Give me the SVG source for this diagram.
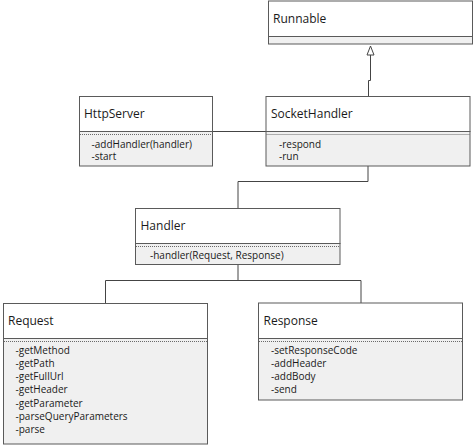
<svg xmlns="http://www.w3.org/2000/svg" width="474" height="445" viewBox="0 0 474 445">
<style>
.hd{fill:#ffffff;stroke:#5a5a5a;stroke-width:1}
.cp{fill:#f0f0f0;stroke:#5a5a5a;stroke-width:1}
.dot{stroke:#6a6a6a;stroke-width:1;stroke-dasharray:1 1}
.t{font-family:"Open Sans","Noto Sans",sans-serif;font-size:12px;fill:#1a1a1a}
.m{font-family:"Open Sans","Noto Sans",sans-serif;font-size:10px;fill:#1a1a1a}
.c{fill:none;stroke:#444444;stroke-width:1}
</style>
<rect width="474" height="445" fill="#ffffff"/>
<g id="connectors">
<path class="c" d="M213 131.5 H266"/>
<path class="c" d="M368.5 96.5 V80.5 H370.5 V55"/>
<polygon points="370.5,46 367,55 374,55" fill="#ffffff" stroke="#444444" stroke-width="1"/>
<path class="c" d="M368 166 V181.5 H238 V208.5"/>
<path class="c" d="M238 264.5 V280.5 M105.5 303.5 V280.5 H361 V303"/>
</g>
<g id="Runnable">
<rect class="hd" x="268.5" y="1" width="204" height="35.5"/>
<rect class="cp" x="268.5" y="36.5" width="204" height="7.5"/>
<text class="t" x="273" y="23">Runnable</text>
</g>
<g id="HttpServer">
<rect class="hd" x="79.5" y="96.5" width="133" height="35"/>
<rect class="cp" x="79.5" y="131.5" width="133" height="34.5"/>
<line class="dot" x1="80" y1="134.5" x2="212" y2="134.5"/>
<text class="t" x="84" y="118">HttpServer</text>
<text class="m" x="91.5" y="147.5">-addHandler(handler)</text>
<text class="m" x="91.5" y="160">-start</text>
</g>
<g id="SocketHandler">
<rect class="hd" x="266" y="96.5" width="204" height="35"/>
<rect class="cp" x="266" y="131.5" width="204" height="34.5"/>
<line class="dot" x1="266.5" y1="134.5" x2="469.5" y2="134.5"/>
<text class="t" x="271" y="118">SocketHandler</text>
<text class="m" x="279" y="147.5">-respond</text>
<text class="m" x="279" y="160">-run</text>
</g>
<g id="Handler">
<rect class="hd" x="135.5" y="208.5" width="204.5" height="35"/>
<rect class="cp" x="135.5" y="243.5" width="204.5" height="21"/>
<line class="dot" x1="136" y1="246.5" x2="339.5" y2="246.5"/>
<text class="t" x="140.5" y="230">Handler</text>
<text class="m" x="150" y="259">-handler(Request, Response)</text>
</g>
<g id="Request">
<rect class="hd" x="3.5" y="303.5" width="204" height="35"/>
<rect class="cp" x="3.5" y="338.5" width="204" height="105.5"/>
<line class="dot" x1="4" y1="341.5" x2="207" y2="341.5"/>
<text class="t" x="8" y="325">Request</text>
<text class="m" x="15.5" y="353.5">-getMethod</text>
<text class="m" x="15.5" y="366.8">-getPath</text>
<text class="m" x="15.5" y="380">-getFullUrl</text>
<text class="m" x="15.5" y="393.3">-getHeader</text>
<text class="m" x="15.5" y="406.6">-getParameter</text>
<text class="m" x="15.5" y="420">-parseQueryParameters</text>
<text class="m" x="15.5" y="433.3">-parse</text>
</g>
<g id="Response">
<rect class="hd" x="258.5" y="303" width="204" height="35.5"/>
<rect class="cp" x="258.5" y="338.5" width="204" height="61.5"/>
<line class="dot" x1="259" y1="341.5" x2="462" y2="341.5"/>
<text class="t" x="263.5" y="324.5">Response</text>
<text class="m" x="271" y="353.5">-setResponseCode</text>
<text class="m" x="271" y="366.8">-addHeader</text>
<text class="m" x="271" y="380">-addBody</text>
<text class="m" x="271" y="393.3">-send</text>
</g>
</svg>
